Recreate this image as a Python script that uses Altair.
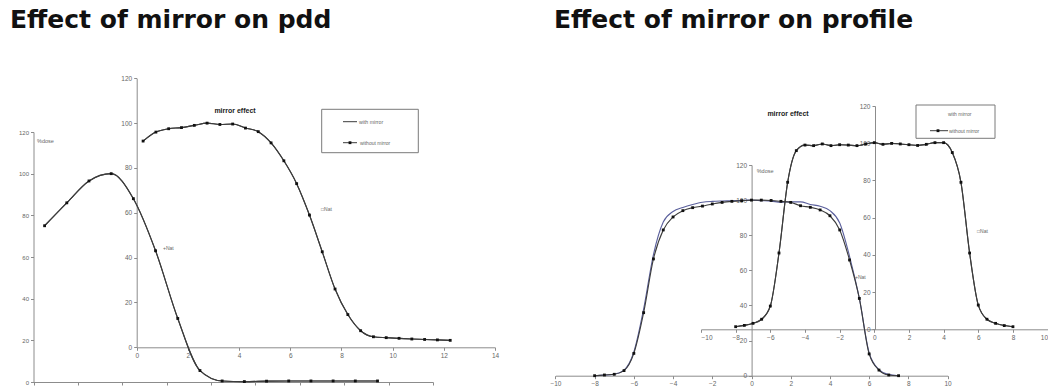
import altair as alt
import pandas as pd

SERIES = ["with mirror", "without mirror"]

# ---------------- left: effect of mirror on pdd ----------------
pdd_depth = [0.5, 1.5, 2.5, 3.5, 4.5, 5.5, 6.5, 7.5, 8.5, 9.5, 10.5, 11.5, 12.5, 13.5, 14.5, 15.5]
pdd_with_mirror = [75, 86, 96.5, 100, 88, 63, 30.5, 5.5, 0.5, 0.2, 0.4, 0.5, 0.5, 0.5, 0.5, 0.5]
pdd_without_mirror = [75, 86, 96.5, 100, 88, 63, 30.5, 5.5, 0.5, 0.2, 0.4, 0.5, 0.5, 0.5, 0.5, 0.5]

eff_depth = [0.25, 0.75, 1.25, 1.75, 2.25, 2.75, 3.25, 3.75, 4.25, 4.75, 5.25, 5.75, 6.25,
             6.75, 7.25, 7.75, 8.25, 8.75, 9.25, 9.75, 10.25, 10.75, 11.25, 11.75, 12.25]
eff_with_mirror = [92, 96, 97.5, 98, 99, 100, 99.4, 99.6, 97.8, 96.2, 91.2, 83.2, 73, 59, 42.6,
                   26, 14.6, 7.4, 4.7, 4.3, 4.0, 3.7, 3.5, 3.3, 3.1]
eff_without_mirror = [92, 96, 97.5, 98, 99, 100, 99.4, 99.6, 97.8, 96.2, 91.2, 83.2, 73, 59, 42.6,
                      26, 14.6, 7.4, 4.7, 4.3, 4.0, 3.7, 3.5, 3.3, 3.1]

# ---------------- right: effect of mirror on profile ----------------
prof_pos = [-8, -7.5, -7, -6.5, -6, -5.5, -5, -4.5, -4, -3.5, -3, -2.5, -2, -1.5, -1, -0.5,
            0, 0.5, 1, 1.5, 2, 2.5, 3, 3.5, 4, 4.5, 5, 5.5, 6, 6.5, 7, 7.5]
prof_with_mirror = [0, 0.3, 0.8, 3.2, 13.5, 38, 69, 87.5, 93.5, 95.8, 97.5, 98.8, 99.3, 99.5, 99.6, 99.8,
                    100, 99.7, 99.4, 98.8, 99.0, 99.0, 97.5, 96.5, 94, 87, 68, 44, 13, 3.5, 0.6, 0]
prof_without_mirror = [0, 0.4, 0.8, 2.9, 12.7, 35.9, 66.5, 83, 90.4, 94, 95.7, 96.6, 97.8, 98.7, 99.3, 99.7,
                       100, 100, 99.8, 99.3, 98.7, 96.8, 95.9, 94.4, 91.1, 83, 65.9, 44, 12.4, 3.2, 0.4, 0]

eprof_pos = [-8, -7.5, -7, -6.5, -6, -5.5, -5, -4.5, -4, -3.5, -3, -2.5, -2, -1.5, -1, -0.5, 0,
             0.5, 1, 1.5, 2, 2.5, 3, 3.5, 4, 4.5, 5, 5.5, 6, 6.5, 7, 7.5, 8]
eprof_with_mirror = [1.4, 2.1, 3.2, 5.4, 12.5, 41, 79, 96, 99, 98.7, 99.6, 98.7, 99.2, 99, 98.7, 99.6, 100.3,
                     99.4, 99.9, 99.6, 99.2, 98.8, 99.4, 100.3, 100.3, 95, 79, 41, 13, 5.4, 3.2, 2, 1.4]
eprof_without_mirror = [1.4, 2.1, 3.2, 5.4, 12.5, 41, 79, 96, 99, 98.7, 99.6, 98.7, 99.2, 99, 98.7, 99.6, 100.3,
                        99.4, 99.9, 99.6, 99.2, 98.8, 99.4, 100.3, 100.3, 95, 79, 41, 13, 5.4, 3.2, 2, 1.4]

titles = ["Effect of mirror on pdd", "Effect of mirror on profile"]
y_ticks = [0, 20, 40, 60, 80, 100, 120]

W, H = 1048, 388
AXC = "#8c8c8c"
LBC = "#666666"
FONT = "Liberation Sans"
LINE = "#3c3c3c"


def long_df(xs, a, b):
    return pd.DataFrame({
        "x": list(xs) + list(xs),
        "y": list(a) + list(b),
        "series": [SERIES[0]] * len(xs) + [SERIES[1]] * len(xs),
    })


def panel(df, xdom, xrng, xvals, x_y, ydom, yrng, y_x, colors, xlabels=True, lsize=6.5, flush=False):
    ax_common = dict(title=None, grid=False, domainColor=AXC, tickColor=AXC, tickSize=3,
                     labelFontSize=lsize, labelColor=LBC, labelFont=FONT, labelPadding=2,
                     labelOverlap=False, domainWidth=1, tickWidth=1)
    xenc = alt.X("x:Q", scale=alt.Scale(domain=xdom, range=xrng, nice=False, zero=False),
                 axis=alt.Axis(orient="bottom", offset=x_y - H, values=xvals, labels=xlabels,
                               labelFlush=flush, **ax_common))
    yenc = alt.Y("y:Q", scale=alt.Scale(domain=ydom, range=yrng, nice=False, zero=False),
                 axis=alt.Axis(orient="left", offset=-y_x, values=y_ticks, labelFlush=False, **ax_common))
    cenc = alt.Color("series:N", scale=alt.Scale(domain=SERIES, range=colors), legend=None)
    lines = alt.Chart(df).mark_line(interpolate="monotone", strokeWidth=1.1).encode(x=xenc, y=yenc, color=cenc)
    pts = (alt.Chart(df).transform_filter(alt.datum.series == SERIES[1])
           .mark_square(size=8, color="#111111", opacity=1).encode(x=xenc, y=yenc))
    return alt.layer(lines, pts)


def txt(s, x, y, size=5.5, color=LBC, weight="normal", font=FONT, baseline="middle", align="left"):
    return (alt.Chart(pd.DataFrame({"t": [s]}))
            .mark_text(align=align, baseline=baseline, fontSize=size, font=font, fontWeight=weight, color=color)
            .encode(text="t:N", x=alt.value(x), y=alt.value(y)))


def box(x1, x2, y1, y2):
    return (alt.Chart(pd.DataFrame({"k": [0]}))
            .mark_rect(fill="white", stroke="#7a7a7a", strokeWidth=1)
            .encode(x=alt.value(x1), x2=alt.value(x2), y=alt.value(y1), y2=alt.value(y2)))


def seg(x1, x2, y, color=LINE):
    return (alt.Chart(pd.DataFrame({"k": [0]})).mark_rule(color=color, strokeWidth=1)
            .encode(x=alt.value(x1), x2=alt.value(x2), y=alt.value(y)))


def marker(x, y):
    return (alt.Chart(pd.DataFrame({"k": [0]})).mark_square(size=8, color="#111111", opacity=1)
            .encode(x=alt.value(x), y=alt.value(y)))


pdd_main = panel(long_df(pdd_depth, pdd_with_mirror, pdd_without_mirror),
                 [0, 18], [33.5, 433], [0, 2, 4, 6, 8, 10, 12, 14, 16, 18], 382,
                 [0, 120], [382, 132], 33.5, [LINE, LINE], xlabels=False, lsize=6)
pdd_eff = panel(long_df(eff_depth, eff_with_mirror, eff_without_mirror),
                [0, 14], [136.7, 495], [0, 2, 4, 6, 8, 10, 12, 14], 347.3,
                [0, 120], [347.3, 78.3], 136.7, [LINE, LINE], lsize=6.5)
prof_main = panel(long_df(prof_pos, prof_with_mirror, prof_without_mirror),
                  [-10, 10], [555.4, 947.6], [-10, -8, -6, -4, -2, 0, 2, 4, 6, 8, 10], 375.7,
                  [0, 120], [375.7, 165], 751.6, ["#5a5f9c", LINE], lsize=6.5)
prof_eff = panel(long_df(eprof_pos, eprof_with_mirror, eprof_without_mirror),
                 [-10, 10], [701, 1047.6], [-10, -8, -6, -4, -2, 0, 2, 4, 6, 8, 10], 329.3,
                 [0, 120], [329.3, 106], 875, [LINE, LINE], lsize=6.5, flush=True)

annotations = [
    # titles
    txt(titles[0], 10, 27.5, size=25, color="#111111", weight="bold", font="DejaVu Sans", baseline="alphabetic"),
    txt(titles[1], 554, 27.5, size=25, color="#111111", weight="bold", font="DejaVu Sans", baseline="alphabetic"),
    # pdd chart texts
    txt("%dose", 37, 140.7, size=5.5),
    txt("mirror effect", 235, 110.7, size=7, color="#222222", weight="bold", align="center"),
    txt("+Nat", 163, 248, size=5),
    txt("\u25a1Nat", 321, 209.3, size=5),
    box(321.7, 418.3, 109.3, 152.7),
    seg(343, 357, 121.7),
    txt("with mirror", 359, 121.7, size=5.2),
    seg(343, 357, 142.7),
    marker(350, 142.7),
    txt("without mirror", 360, 142.7, size=5),
    # profile chart texts
    txt("%dose", 756.7, 170.7, size=5.5),
    txt("mirror effect", 788, 114.3, size=7, color="#222222", weight="bold", align="center"),
    txt("+Nat", 855, 276.7, size=5),
    txt("\u25a1Nat", 977, 230.7, size=5),
    box(916, 995, 105, 138.3),
    txt("with mirror", 948, 114.3, size=5),
    seg(930, 948, 130.7),
    marker(938, 130.7),
    txt("without mirror", 949, 130.7, size=5),
]

chart = (alt.layer(pdd_main, pdd_eff, prof_main, prof_eff, *annotations)
         .resolve_scale(x="independent", y="independent", color="independent")
         .properties(width=W, height=H, autosize=alt.AutoSizeParams(type="none"), padding=0,
                     background="white")
         .configure_view(stroke=None))

chart.save("out.html", embed_options={"renderer": "svg", "actions": False})
